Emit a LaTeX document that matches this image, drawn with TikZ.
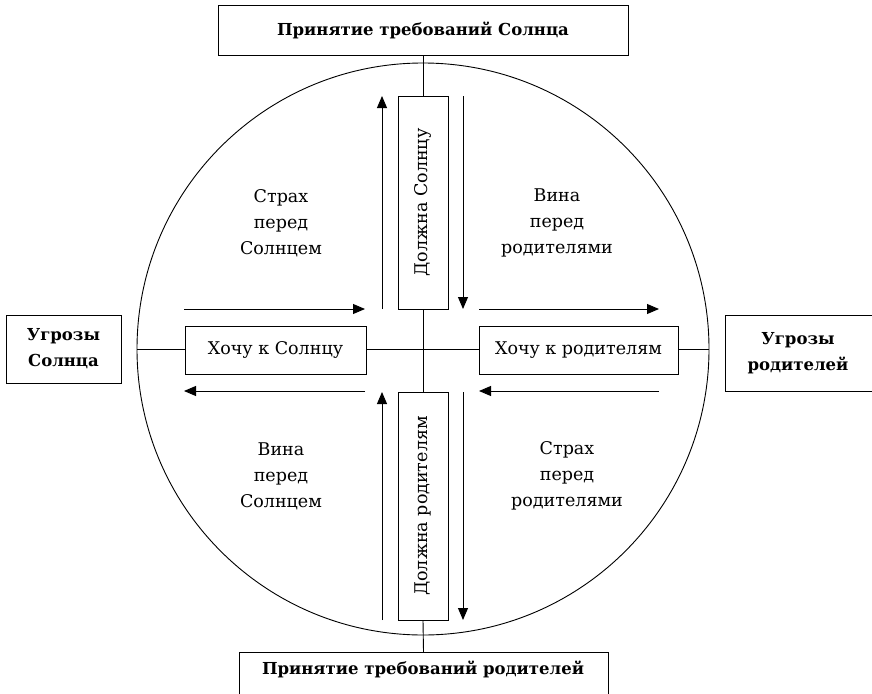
\documentclass[tikz,border=0pt]{standalone}
\usepackage{fontspec}
\setmainfont{DejaVu Serif}
\usetikzlibrary{arrows.meta}
\begin{document}
\begin{tikzpicture}[x=1pt,y=-1pt,line width=0.9pt,
  box/.style={draw,minimum height=0pt,inner sep=0pt},
  lbl/.style={font=\fontsize{17.5}{26}\selectfont,align=center},
  blbl/.style={font=\bfseries\fontsize{16.5}{26}\selectfont,align=center},
  arr/.style={-{Triangle[length=12pt,width=10pt]}},
  ]
\useasboundingbox (0,0) rectangle (872,693);
\clip (0,0) rectangle (872,693);
\fill[white] (0,0) rectangle (872,693);
\node[circle,draw,minimum size=572pt,inner sep=0pt] (C) at (423,349) {};
% outer boxes
\node[box,blbl,minimum width=410pt,minimum height=50pt] (top) at (423,30) {Принятие требований Солнца};
\node[box,minimum width=369pt,minimum height=50pt,anchor=north] (bot) at (423.5,652) {};
\node[blbl] at (423,669) {Принятие требований родителей};
\node[box,blbl,minimum width=115pt,minimum height=68pt] (left) at (63.5,349) {Угрозы\\Солнца};
\node[box,minimum width=160pt,minimum height=76pt,anchor=west] (right) at (725,353) {};
\node[blbl] at (798,353) {Угрозы\\родителей};
% inner boxes
\node[box,lbl,minimum width=181pt,minimum height=48pt] (hl) at (275.5,350) {Хочу к Солнцу};
\node[box,lbl,minimum width=199pt,minimum height=48pt] (hr) at (578.5,350) {Хочу к родителям};
\node[box,minimum width=50pt,minimum height=213pt] (vt) at (423,202.5) {};
\node[lbl,rotate=90] at (423,202.5) {Должна Солнцу};
\node[box,minimum width=50pt,minimum height=228pt] (vb) at (423,506) {};
\node[lbl,rotate=90] at (423,506) {Должна родителям};
% connecting lines
\coordinate (cl) at (137,349);
\coordinate (cr) at (709,349);
\draw (cl) -- (hl.west |- cl);
\draw (hl.east |- cl) -- (hr.west |- cl);
\draw (hr.east |- cl) -- (cr);
\draw (top.south) -- (vt.north);
\draw (vt.south) -- (vb.north);
\draw (vb.south) -- (bot.north);
% arrows
\coordinate (a1s) at (184,309); \coordinate (a1e) at (365,309);
\coordinate (a2s) at (365,391); \coordinate (a2e) at (184,391);
\coordinate (a3s) at (479,309); \coordinate (a3e) at (659,309);
\coordinate (a4s) at (659,391); \coordinate (a4e) at (479,391);
\coordinate (a5s) at (382,309); \coordinate (a5e) at (382,96);
\coordinate (a6s) at (463,96);  \coordinate (a6e) at (463,309);
\coordinate (a7s) at (382,620); \coordinate (a7e) at (382,392);
\coordinate (a8s) at (463,392); \coordinate (a8e) at (463,620);
\foreach \i in {1,...,8} \draw[arr] (a\i s) -- (a\i e);
% quadrant labels
\node[lbl] (q1) at (281,223) {Страх\\перед\\Солнцем};
\node[lbl] (q2) at (557,223) {Вина\\перед\\родителями};
\node[lbl] (q3) at (281,476) {Вина\\перед\\Солнцем};
\node[lbl] (q4) at (567,476) {Страх\\перед\\родителями};
\end{tikzpicture}
\end{document}
